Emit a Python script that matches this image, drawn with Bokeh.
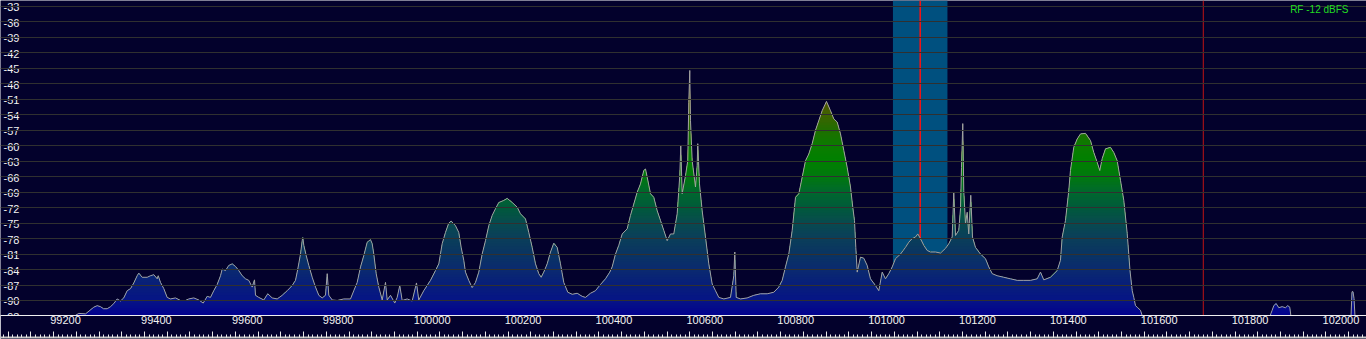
import numpy as np
from bokeh.plotting import figure
from bokeh.models import (Range1d, FixedTicker, LinearAxis, Span, BoxAnnotation,
                          Label, ColumnDataSource, Grid)
from bokeh.core.properties import value
from bokeh.embed import file_html
from bokeh.resources import INLINE

# ---------------- data ----------------
FREQ_KHZ = [
    99083.0, 99171.0, 99237.0, 99255.3, 99270.1, 99288.3, 99295.8, 99303.1, 99309.7, 99317.8,
    99325.1, 99332.3, 99339.8, 99347.1, 99354.3, 99361.8, 99369.1, 99376.4, 99383.8, 99387.4,
    99394.8, 99405.8, 99413.1, 99420.4, 99427.9, 99430.1, 99435.1, 99442.4, 99449.8, 99457.1,
    99468.1, 99479.1, 99490.1, 99497.4, 99508.4, 99519.4, 99529.1, 99537.9, 99545.1, 99552.4,
    99559.9, 99567.2, 99570.9, 99578.2, 99585.4, 99592.9, 99600.2, 99607.4, 99614.9, 99622.2,
    99629.4, 99636.9, 99642.0, 99644.2, 99651.4, 99662.4, 99671.2, 99680.9, 99691.9, 99702.9,
    99713.9, 99724.9, 99732.2, 99737.3, 99743.2, 99746.9, 99748.3, 99750.5, 99755.8, 99761.5,
    99769.0, 99776.2, 99783.5, 99791.0, 99798.2, 99802.0, 99805.5, 99813.0, 99824.0, 99838.5,
    99853.2, 99860.5, 99868.0, 99875.3, 99882.5, 99890.0, 99897.3, 99901.0, 99904.5, 99909.8,
    99915.5, 99923.0, 99930.3, 99934.0, 99941.3, 99950.7, 99956.0, 99961.7, 99967.0, 99978.0,
    99989.0, 99998.5, 100003.5, 100014.5, 100029.3, 100040.3, 100047.6, 100055.0, 100062.3, 100069.5,
    100074.8, 100084.3, 100091.5, 100096.8, 100102.5, 100106.3, 100113.5, 100121.0, 100128.3, 100135.6,
    100143.0, 100150.3, 100157.6, 100165.1, 100172.3, 100179.6, 100190.6, 100198.1, 100209.1, 100220.1,
    100227.4, 100238.4, 100245.6, 100253.1, 100260.4, 100267.6, 100272.9, 100278.6, 100286.1, 100293.4,
    100300.6, 100308.1, 100315.4, 100322.6, 100331.4, 100341.1, 100352.1, 100363.1, 100370.4, 100381.4,
    100392.4, 100403.4, 100414.4, 100423.9, 100429.1, 100436.4, 100443.7, 100451.2, 100462.2, 100469.4,
    100476.7, 100484.2, 100491.4, 100498.7, 100502.5, 100506.2, 100513.5, 100520.7, 100528.2, 100535.5,
    100542.7, 100550.2, 100557.5, 100564.7, 100572.2, 100577.9, 100580.1, 100583.2, 100590.5, 100595.5,
    100597.7, 100599.9, 100601.5, 100605.2, 100612.5, 100616.2, 100617.5, 100621.3, 100627.2, 100634.5,
    100641.8, 100649.2, 100656.5, 100663.8, 100674.8, 100689.5, 100696.8, 100699.0, 100702.1, 100711.5,
    100726.3, 100740.8, 100755.5, 100770.3, 100784.8, 100795.8, 100803.3, 100810.5, 100817.8, 100825.3,
    100832.6, 100839.9, 100847.3, 100854.6, 100861.9, 100869.3, 100876.6, 100883.9, 100891.3, 100900.8,
    100909.6, 100916.9, 100924.3, 100931.6, 100938.9, 100946.3, 100953.6, 100958.6, 100962.4, 100965.3,
    100968.4, 100975.6, 100982.9, 100990.3, 100997.6, 101008.6, 101015.9, 101023.4, 101030.6, 101037.9,
    101045.4, 101052.6, 101063.6, 101074.6, 101081.9, 101089.3, 101096.6, 101101.7, 101107.6, 101114.9,
    101122.4, 101129.6, 101140.6, 101151.7, 101162.7, 101169.9, 101177.4, 101180.9, 101184.7, 101191.9,
    101195.7, 101197.9, 101200.7, 101202.9, 101206.7, 101210.4, 101213.9, 101218.3, 101222.1, 101228.7,
    101239.7, 101250.7, 101258.0, 101265.5, 101276.5, 101291.0, 101305.7, 101320.5, 101335.0, 101349.7,
    101364.5, 101371.7, 101379.0, 101393.7, 101408.5, 101415.7, 101419.5, 101426.7, 101434.0, 101437.7,
    101445.0, 101452.5, 101459.8, 101470.8, 101481.8, 101489.0, 101496.5, 101502.2, 101507.5, 101514.8,
    101525.8, 101533.0, 101540.5, 101547.8, 101555.1, 101562.6, 101568.7, 101573.6, 101577.1, 101580.8,
    101584.6, 101591.8, 101596.2, 101635.8, 101723.8, 101833.9, 101873.5, 101879.0, 101881.6, 101885.2,
    101890.4, 101896.1, 101903.6, 101910.9, 101915.9, 101920.3, 101923.0, 101965.9, 102043.0, 102055.1,
    102057.3, 102059.5, 102061.7, 102063.9, 102089.2,
]
LEVEL_DBFS = [
    -94.5, -94.0, -93.5, -92.5, -92.6, -91.3, -91.0, -91.2, -91.6, -91.6,
    -91.2, -90.6, -89.7, -90.1, -89.5, -88.1, -87.7, -86.6, -85.2, -84.7,
    -85.5, -85.5, -85.2, -85.0, -85.8, -85.2, -86.5, -87.7, -89.4, -89.7,
    -89.5, -90.0, -90.0, -89.7, -89.5, -89.9, -90.5, -89.2, -89.4, -88.1,
    -86.9, -85.2, -83.9, -84.2, -83.2, -82.9, -83.4, -84.2, -85.2, -85.8,
    -86.1, -87.4, -86.0, -89.0, -89.4, -89.9, -88.7, -89.5, -89.7, -89.0,
    -88.1, -87.1, -86.1, -83.9, -81.0, -78.4, -77.8, -79.3, -81.3, -83.2,
    -85.5, -87.4, -89.0, -89.5, -89.0, -84.8, -89.0, -89.9, -90.0, -89.7,
    -89.7, -88.1, -86.5, -83.5, -81.3, -78.7, -78.2, -79.0, -81.0, -84.8,
    -87.4, -89.9, -86.5, -89.9, -89.0, -90.5, -89.4, -87.1, -90.0, -89.7,
    -90.1, -86.6, -89.9, -88.1, -86.1, -84.2, -82.9, -79.0, -76.8, -75.0,
    -74.6, -75.5, -76.8, -79.7, -82.2, -84.5, -86.1, -87.5, -86.5, -84.5,
    -81.0, -78.4, -75.5, -73.5, -72.2, -71.0, -70.6, -70.2, -71.0, -71.9,
    -73.2, -74.2, -76.8, -79.7, -82.9, -84.8, -85.5, -84.5, -82.9, -80.6,
    -78.9, -79.7, -82.9, -86.5, -88.4, -88.8, -88.6, -89.2, -89.4, -88.6,
    -88.1, -86.9, -85.8, -84.5, -83.5, -81.0, -79.3, -77.1, -76.1, -73.5,
    -71.3, -69.0, -67.4, -64.8, -64.5, -66.1, -69.3, -70.0, -72.6, -74.5,
    -76.4, -78.4, -77.1, -77.1, -73.2, -65.8, -60.0, -69.3, -65.8, -62.9,
    -51.6, -45.4, -55.1, -62.9, -68.0, -63.8, -59.6, -67.4, -72.6, -77.7,
    -82.9, -86.8, -88.1, -89.4, -89.7, -89.4, -85.2, -80.6, -89.4, -89.7,
    -89.5, -89.0, -88.7, -88.7, -88.4, -87.4, -86.1, -83.5, -81.0, -76.4,
    -70.0, -69.3, -66.1, -62.9, -61.6, -59.6, -57.0, -55.1, -53.2, -51.4,
    -53.2, -54.8, -55.4, -57.7, -60.9, -64.2, -68.0, -71.9, -74.5, -79.7,
    -84.5, -81.6, -81.8, -83.2, -85.8, -87.1, -88.1, -84.5, -85.8, -84.8,
    -83.5, -81.9, -81.0, -79.7, -78.7, -78.0, -77.7, -77.1, -78.0, -79.3,
    -80.3, -80.6, -80.6, -80.8, -79.9, -79.0, -77.7, -69.0, -77.4, -76.4,
    -72.2, -64.2, -55.7, -68.7, -75.1, -72.9, -77.1, -69.6, -77.7, -79.7,
    -81.0, -81.9, -83.5, -84.8, -85.2, -85.5, -85.8, -86.1, -86.1, -86.1,
    -85.8, -84.5, -86.0, -85.5, -84.2, -82.2, -77.7, -74.5, -68.7, -64.8,
    -60.3, -58.7, -57.7, -57.6, -59.0, -61.3, -63.2, -64.8, -62.5, -60.6,
    -60.3, -61.3, -62.9, -66.7, -70.6, -77.0, -84.2, -88.1, -89.4, -91.0,
    -91.3, -91.9, -93.1, -94.3, -94.9, -94.3, -93.9, -92.5, -91.9, -91.0,
    -90.6, -91.4, -91.2, -91.4, -91.0, -91.3, -93.1, -94.3, -94.3, -93.1,
    -88.3, -88.3, -89.6, -93.1, -94.3,
]
LEVEL_TICKS = [-33, -36, -39, -42, -45, -48, -51, -54, -57, -60, -63,
               -66, -69, -72, -75, -78, -81, -84, -87, -90, -93]
FREQ_LABELS = [99200, 99400, 99600, 99800, 100000, 100200, 100400, 100600,
               100800, 101000, 101200, 101400, 101600, 101800, 102000]
TUNED_KHZ = 101107
FILTER_LO_KHZ, FILTER_HI_KHZ = 101047, 101167
MARKER_KHZ = 101730
RF_TEXT = "RF -12 dBFS"

# ---------------- layout / style ----------------
X_START, X_END = 99083.0, 102089.2
Y_BOTTOM, Y_TOP = -92.91, -31.84
PX_PER_KHZ = 1366 / (X_END - X_START)
BG = "#03012c"
GRID = "#303030"
TXT = "#f2f2f2"
FONT = "Liberation Sans"
GRAD_STOPS = [(-93, (2, 0, 143)), (-90, (6, 20, 134)), (-87, (8, 30, 122)),
              (-84, (10, 42, 112)), (-81, (10, 52, 98)), (-78, (10, 62, 90)),
              (-75, (8, 74, 80)), (-72, (0, 90, 58)), (-69, (0, 104, 46)),
              (-66, (0, 120, 14)), (-63, (0, 128, 0)), (-60, (10, 124, 0)),
              (-57, (31, 110, 0)), (-54, (63, 98, 0)), (-51, (80, 82, 0)),
              (-44, (90, 80, 0))]

freqs = np.array(FREQ_KHZ)
levels = np.array(LEVEL_DBFS)

p = figure(frame_width=1366, frame_height=315,
           x_range=Range1d(X_START, X_END), y_range=Range1d(Y_BOTTOM, Y_TOP),
           x_axis_type=None, y_axis_type=None,
           output_backend="svg", toolbar_location=None,
           min_border_left=0, min_border_right=0, min_border_top=0, min_border_bottom=24,
           background_fill_color=BG, border_fill_color=BG, outline_line_color=None)

# filter passband and markers (under the spectrum)
p.add_layout(BoxAnnotation(left=FILTER_LO_KHZ, right=FILTER_HI_KHZ, fill_color="#00507f",
                           fill_alpha=1.0, line_color=None, level="underlay"))
p.add_layout(Span(location=TUNED_KHZ, dimension="height", line_color="#ff1010",
                  line_width=1.5, level="underlay"))
p.add_layout(Span(location=MARKER_KHZ, dimension="height", line_color="#c01414",
                  line_width=1, level="underlay"))

# gradient fill under the trace: colour depends on absolute level
stop_db = np.array([s[0] for s in GRAD_STOPS], dtype=float)
stop_rgb = np.array([s[1] for s in GRAD_STOPS], dtype=float)
def grad_color(db):
    r, g, b = (np.interp(db, stop_db, stop_rgb[:, k]) for k in range(3))
    return "#%02x%02x%02x" % (int(round(r)), int(round(g)), int(round(b)))

band_tops = np.arange(-44.0, Y_BOTTOM - 1.0, -0.5)
for hi in band_tops:
    p.varea(x=freqs, y1=Y_BOTTOM - 10, y2=np.minimum(levels, hi),
            fill_color=grad_color(hi - 0.25), fill_alpha=1.0)

# horizontal grid over the fill
p.add_layout(Grid(dimension=1, ticker=FixedTicker(ticks=LEVEL_TICKS),
                  grid_line_color=GRID, grid_line_width=1, level="glyph"))

# trace
p.line(freqs, levels, line_color="#a2a2a2", line_width=1)

# level labels inside the plot
lsrc = ColumnDataSource(dict(x=[X_START] * len(LEVEL_TICKS), y=LEVEL_TICKS,
                             t=[str(v) for v in LEVEL_TICKS]))
p.text(x="x", y="y", text="t", source=lsrc, x_offset=3, y_offset=1,
       text_align="left", text_baseline="middle", text_color=TXT,
       text_font=value(FONT), text_font_size="11px")

p.add_layout(Label(x=X_END, y=Y_TOP, x_offset=-18, y_offset=-3, text=RF_TEXT,
                   text_align="right", text_baseline="top", text_color="#22dd22",
                   text_font=FONT, text_font_size="10px"))

# frequency axis: labels sit just right of their tick, so place them by their width
label_pos = [int(round(f + (len(str(f)) * 3.05 - 3.5) / PX_PER_KHZ)) for f in FREQ_LABELS]
ax1 = LinearAxis(ticker=FixedTicker(ticks=label_pos, minor_ticks=[]),
                 major_label_overrides={pos: str(f) for pos, f in zip(label_pos, FREQ_LABELS)},
                 axis_line_color="#f0f0f0", axis_line_width=1,
                 major_tick_in=0, major_tick_out=0, minor_tick_in=0, minor_tick_out=0,
                 major_tick_line_color=None, minor_tick_line_color=None,
                 major_label_standoff=0, major_label_text_color=TXT,
                 major_label_text_font=FONT, major_label_text_font_size="11px",
                 axis_label=" ", axis_label_text_font_size="4px", axis_label_standoff=3)
ticks50 = list(range(99100, 102100, 50))
ticks10 = list(range(99090, 102090, 10))
ax2 = LinearAxis(ticker=FixedTicker(ticks=ticks50, minor_ticks=ticks10),
                 axis_line_color="#c4c4c4", axis_line_width=2,
                 major_tick_in=6, major_tick_out=0, minor_tick_in=3, minor_tick_out=0,
                 major_tick_line_color="#e8e8e8", minor_tick_line_color="#e8e8e8",
                 major_label_standoff=0, major_label_text_font_size="0px",
                 major_label_overrides={t: "" for t in ticks50})
p.add_layout(ax1, "below")
p.add_layout(ax2, "below")

open("out.html", "w").write(file_html(p, INLINE, title="Spectrum"))
